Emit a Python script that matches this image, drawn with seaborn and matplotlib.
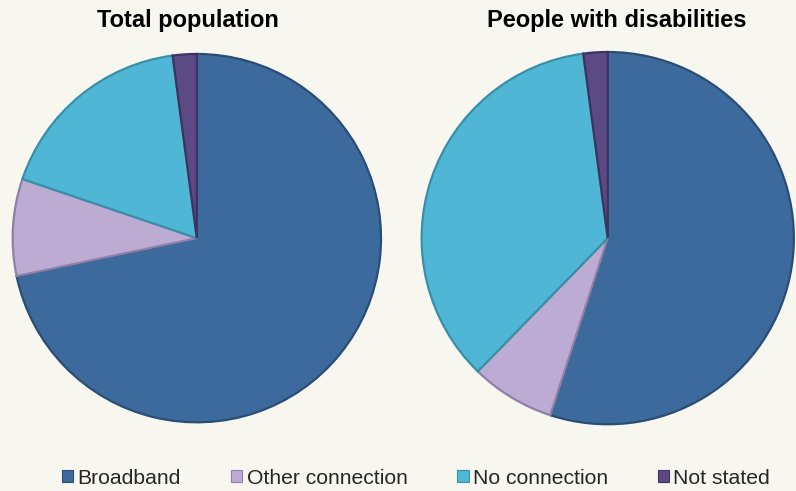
import matplotlib
matplotlib.use("Agg")
import matplotlib.pyplot as plt
import seaborn as sns
from matplotlib.patches import Patch

categories = ["Broadband", "Other connection", "No connection", "Not stated"]
total_population = [71.7, 8.5, 17.7, 2.1]
people_disabilities = [55.0, 7.3, 35.6, 2.1]
titles = ["Total population", "People with disabilities"]

sns.set_style("white")
plt.rcParams["font.family"] = ["Liberation Sans", "DejaVu Sans"]
colors = sns.color_palette(["#3d6a9d", "#bcacd3", "#4fb7d5", "#5c4a85"])
edge_colors = sns.color_palette(["#2a4d75", "#8f80a8", "#3a8fa8", "#3f3260"])
bg = "#f7f7f0"

fig = plt.figure(figsize=(7.96, 4.91), dpi=100, facecolor=bg)

# axes boxes (figure fraction) so each pie sits where the reference has it
boxes = [[0.0113, 0.132, 0.472, 0.766], [0.525, 0.128, 0.477, 0.774]]
title_x = [188 / 796, 617 / 796]

for box, vals, title, tx in zip(boxes, [total_population, people_disabilities], titles, title_x):
    ax = fig.add_axes(box)
    ax.set_facecolor(bg)
    wedges, _ = ax.pie(vals, colors=colors, startangle=90, counterclock=False,
                       radius=1.0, wedgeprops=dict(linewidth=1.6, edgecolor="white"))
    for w, ec in zip(wedges, edge_colors):
        w.set_edgecolor(ec)
    ax.set_xlim(-1.02, 1.02)
    ax.set_ylim(-1.02, 1.02)
    ax.set_aspect("equal")
    ax.axis("off")
    fig.text(tx, 1 - 21 / 491, title, ha="center", va="center",
             fontsize=17, fontweight="bold", color="black")

handles = [Patch(facecolor=c, edgecolor=ec, linewidth=0.8) for c, ec in zip(colors, edge_colors)]
fig.legend(handles, categories, loc="center", bbox_to_anchor=(416 / 796, 1 - 478 / 491),
           ncol=4, frameon=False, fontsize=15.2, handlelength=0.55, handleheight=0.55,
           handletextpad=0.2, columnspacing=2.35)

fig.savefig("out.png", dpi=100, facecolor=bg)
